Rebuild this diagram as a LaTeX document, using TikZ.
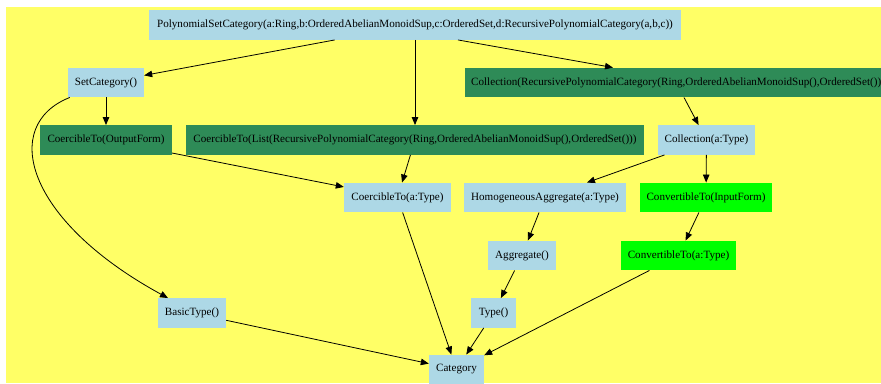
\documentclass[tikz,border=0pt]{standalone}
\usepackage{fontspec}
\setmainfont{Liberation Serif}
\usepackage{tikz}
\usepackage{xcolor}
\usetikzlibrary{positioning,arrows.meta}
\definecolor{bgyellow}{HTML}{FFFF66}
\definecolor{catblue}{HTML}{ADD8E6}
\definecolor{domgreen}{HTML}{2E8B57}
\definecolor{convgreen}{HTML}{00FF00}

\begin{document}
\begin{tikzpicture}[
  x=1pt, y=-1pt,
  font=\fontsize{11.1}{13}\selectfont,
  cat/.style={fill=catblue, inner sep=3pt, minimum height=29.5pt},
  dom/.style={fill=domgreen, inner sep=3pt, minimum height=29.5pt},
  conv/.style={fill=convgreen, inner sep=3pt, minimum height=29.5pt},
  to/.style={-{Triangle[length=8pt,width=6.5pt]}, line width=0.8pt, black}]

\path[use as bounding box, clip] (0,0) rectangle (881,383);
\fill[bgyellow] (6,7) rectangle (890,383);

\node[cat, minimum width=532pt] (poly) at (415,25)
  {PolynomialSetCategory(a:Ring,b:OrderedAbelianMonoidSup,c:OrderedSet,d:RecursivePolynomialCategory(a,b,c))};
\node[cat, minimum width=76pt] (setcat) at (106,82.5) {SetCategory()};
\node[dom, anchor=west, inner xsep=6pt] (collrpc) at (465,82.5)
  {Collection(RecursivePolynomialCategory(Ring,OrderedAbelianMonoidSup(),OrderedSet()))};
\node[dom, minimum width=132pt] (cooutput) at (106,140) {CoercibleTo(OutputForm)};
\node[dom, minimum width=458pt] (colist) at (415,140)
  {CoercibleTo(List(RecursivePolynomialCategory(Ring,OrderedAbelianMonoidSup(),OrderedSet()))};
\node[cat, minimum width=97pt] (colltype) at (706.5,140) {Collection(a:Type)};
\node[cat, minimum width=107pt] (cotype) at (397.5,197.5) {CoercibleTo(a:Type)};
\node[cat, minimum width=162pt] (homagg) at (545,197.5) {HomogeneousAggregate(a:Type)};
\node[conv, minimum width=132pt] (convinput) at (706,197.5) {ConvertibleTo(InputForm)};
\node[cat, minimum width=68pt] (aggregate) at (522,255.5) {Aggregate()};
\node[conv, minimum width=115pt] (convtype) at (678.5,255.5) {ConvertibleTo(a:Type)};
\node[cat, minimum width=68pt] (basictype) at (192,313) {BasicType()};
\node[cat, minimum width=45pt] (typenode) at (493.5,313) {Type()};
\node[cat, minimum width=55pt] (category) at (456.5,369.5) {Category};

\draw[to] (poly) -- (setcat);
\draw[to] (poly) -- (colist);
\draw[to] ([xshift=43pt]poly.south) -- ([xshift=148pt]collrpc.north west);
\draw[to] (setcat) -- (cooutput);
\draw[to] ([xshift=2pt]setcat.south west) .. controls (0,125) and (25,220) .. (basictype.north west -| 168,0);
\draw[to] (cooutput) -- (cotype);
\draw[to] (colist) -- (cotype);
\draw[to] ([xshift=219pt]collrpc.south west) -- (colltype);
\draw[to] (colltype) -- (homagg);
\draw[to] (colltype) -- (convinput);
\draw[to] (homagg) -- (aggregate);
\draw[to] (convinput) -- (convtype);
\draw[to] (cotype) -- (category);
\draw[to] (aggregate) -- (typenode);
\draw[to] (convtype) -- (category);
\draw[to] (basictype) -- (category);
\draw[to] (typenode) -- (category);
\end{tikzpicture}
\end{document}
